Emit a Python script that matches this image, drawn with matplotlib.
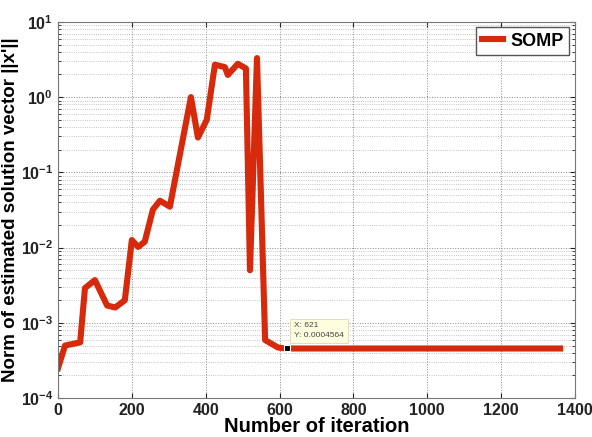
import matplotlib
matplotlib.use("Agg")
import matplotlib.pyplot as plt
from matplotlib.ticker import LogLocator, NullFormatter

plt.rcParams['font.family'] = ['Liberation Sans', 'DejaVu Sans']

# iteration vs. norm of estimated solution vector
iters = [0, 19, 60, 73, 100, 133, 155, 181, 200, 217, 235, 257, 276, 303,
         360, 379, 403, 425, 452, 460, 487, 509, 520, 539, 561, 596, 615, 621, 1360]
norms = [2.5e-4, 5.0e-4, 5.5e-4, 2.9e-3, 3.7e-3, 1.7e-3, 1.6e-3, 2.0e-3, 1.26e-2,
         1.02e-2, 1.2e-2, 3.2e-2, 4.2e-2, 3.5e-2, 1.0, 0.29, 0.5, 2.7, 2.5, 1.97,
         2.77, 2.4, 5.0e-3, 3.3, 5.9e-4, 4.7e-4, 4.58e-4, 4.564e-4, 4.564e-4]
tip_x, tip_y = 621, 0.0004564

fig = plt.figure(figsize=(5.92, 4.37), dpi=100)
ax = fig.add_axes([0.098, 0.089, 0.873, 0.861])

ax.semilogy(iters, norms, color='#d72a0c', linewidth=4.4, label='SOMP',
            solid_joinstyle='round')
ax.plot([tip_x], [tip_y], marker='s', color='black', markersize=4.5,
        markeredgecolor='white', markeredgewidth=0.8)
ax.annotate(f"X: {tip_x}\nY: {tip_y}", xy=(tip_x, tip_y), xytext=(5, 7),
            textcoords='offset points', fontsize=6, color='#444444',
            ha='left', va='bottom', linespacing=1.5,
            bbox=dict(boxstyle='square,pad=0.45', fc='#fffde0', ec='#d8d8b8', lw=0.6))

ax.set_xlim(0, 1400)
ax.set_ylim(1e-4, 1e1)
ax.set_xticks(range(0, 1401, 200))
ax.yaxis.set_major_locator(LogLocator(base=10, numticks=10))
ax.yaxis.set_minor_locator(LogLocator(base=10, subs=range(2, 10), numticks=10))
ax.yaxis.set_minor_formatter(NullFormatter())

ax.grid(True, which='major', linestyle=':', color='#888888', linewidth=0.7)
ax.grid(True, which='minor', axis='y', linestyle=':', color='#b0b0b0', linewidth=0.6)
ax.tick_params(which='both', direction='in', top=True, right=True,
               labelsize=11.5, colors='#222222')
ax.tick_params(which='minor', length=2)
for lab in ax.get_xticklabels() + ax.get_yticklabels():
    lab.set_fontweight('bold')
for sp in ax.spines.values():
    sp.set_color('#777777')

ax.set_xlabel('Number of iteration', fontsize=14.5, fontweight='bold', labelpad=-1)
ax.set_ylabel("Norm of estimated solution vector ||x'||", fontsize=13.5,
              fontweight='bold', labelpad=1)

leg = ax.legend(loc='upper right', prop={'weight': 'bold', 'size': 13},
                handlelength=1.2, handletextpad=0.4, borderpad=0.3,
                fancybox=False, framealpha=1, edgecolor='#555555',
                borderaxespad=0.3)

fig.savefig('out.png', dpi=100)
